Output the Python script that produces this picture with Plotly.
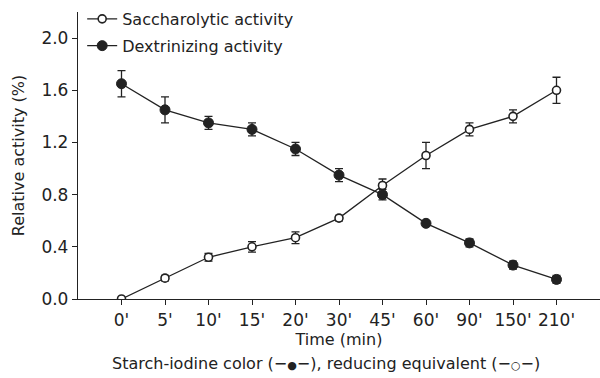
import plotly.graph_objects as go

times = ["0'", "5'", "10'", "15'", "20'", "30'", "45'", "60'", "90'", "150'", "210'"]
sacch = [0.0, 0.16, 0.32, 0.40, 0.47, 0.62, 0.87, 1.10, 1.30, 1.40, 1.60]
sacch_err = [0.01, 0.02, 0.03, 0.04, 0.045, 0.02, 0.05, 0.10, 0.05, 0.05, 0.10]
dextr = [1.65, 1.45, 1.35, 1.30, 1.15, 0.95, 0.80, 0.58, 0.43, 0.26, 0.15]
dextr_err = [0.10, 0.10, 0.05, 0.05, 0.05, 0.05, 0.04, 0.02, 0.03, 0.03, 0.03]
y_ticks = [0.0, 0.4, 0.8, 1.2, 1.6, 2.0]

FONT = "DejaVu Sans"
C = "#222222"
xi = list(range(len(times)))

fig = go.Figure()
fig.add_trace(go.Scatter(
    x=xi, y=sacch, name="Saccharolytic activity", mode="lines+markers",
    legendgroup="a",
    line=dict(color=C, width=1.3),
    marker=dict(symbol="circle", size=8, color="white", line=dict(color=C, width=1.6)),
    error_y=dict(type="data", array=sacch_err, color=C, thickness=1.3, width=4),
))
fig.add_trace(go.Scatter(
    x=xi, y=dextr, name="Dextrinizing activity", mode="lines+markers",
    legendgroup="b",
    line=dict(color=C, width=1.3),
    marker=dict(symbol="circle", size=10, color=C, line=dict(color=C, width=1)),
    error_y=dict(type="data", array=dextr_err, color=C, thickness=1.3, width=4),
))

fig.update_layout(
    width=600, height=378,
    margin=dict(l=78, r=0, t=12, b=79),
    paper_bgcolor="white", plot_bgcolor="white",
    font=dict(family=FONT, size=16, color=C),
    showlegend=True,
    legend=dict(x=0.008, y=1.035, xanchor="left", yanchor="top", bgcolor="rgba(0,0,0,0)",
                font=dict(size=16, family=FONT, color=C), itemwidth=30,
                traceorder="grouped", tracegroupgap=3),
    xaxis=dict(range=[-1, 11], tickmode="array", tickvals=xi, ticktext=times,
               showline=True, linecolor=C, linewidth=1.3, ticks="outside",
               ticklen=5, tickcolor=C, showgrid=False, zeroline=False,
               title=dict(text="Time (min)", font=dict(size=16), standoff=5),
               tickfont=dict(size=17)),
    yaxis=dict(range=[0, 2.2], tickmode="array", tickvals=y_ticks,
               ticktext=[f"{v:.1f}" for v in y_ticks],
               showline=True, linecolor=C, linewidth=1.3, ticks="outside",
               ticklen=5, tickcolor=C, showgrid=False, zeroline=False,
               title=dict(text="Relative activity (%)", font=dict(size=16), standoff=12),
               tickfont=dict(size=17)),
)
fig.add_annotation(
    text=("Starch-iodine color (−<span style='font-size:11px'>●</span>−), "
          "reducing equivalent (−<span style='font-size:11px'>○</span>−)"),
    xref="paper", yref="paper", x=0.476, y=-0.226, xanchor="center", yanchor="middle",
    showarrow=False, font=dict(size=16, family=FONT, color=C),
)
fig.write_html("out.html")
